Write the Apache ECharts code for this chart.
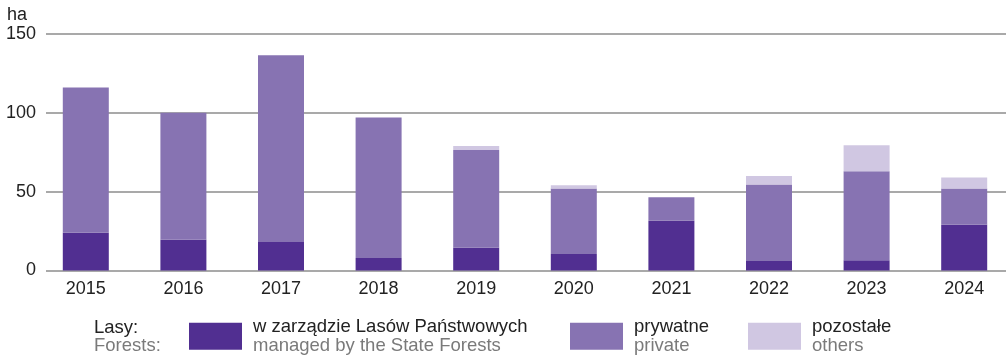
<!DOCTYPE html>
<html>
<head>
<meta charset="utf-8">
<script src="https://cdn.jsdelivr.net/npm/echarts@6/dist/echarts.min.js"></script>
<style>
html,body{margin:0;padding:0;background:#fff;}
#c{width:1007px;height:356px;}
</style>
</head>
<body>
<div id="c"></div>
<script>
const years = ['2015','2016','2017','2018','2019','2020','2021','2022','2023','2024'];
const stateForests = [24, 19.5, 18, 8, 14.5, 10.5, 31.5, 6, 6.5, 29];
const privateForests = [92, 80.5, 118.5, 89, 62, 41.5, 15, 48.5, 56.5, 23];
const otherForests = [0, 0, 0, 0, 2.5, 2, 0, 5.5, 16.5, 7];
const yTicks = [0, 50, 100, 150];
const seriesNames = [
  ['w zarządzie Lasów Państwowych', 'managed by the State Forests'],
  ['prywatne', 'private'],
  ['pozostałe', 'others']
];
const colors = ['#512f91', '#8773b2', '#d0c7e2'];

const font = 'Liberation Sans, Arial, sans-serif';
const chart = echarts.init(document.getElementById('c'), null, {renderer: 'canvas'});

function legendFor(i, left) {
  return {
    left: left, top: 317.5,
    padding: 0,
    orient: 'horizontal',
    icon: 'rect',
    itemWidth: 53, itemHeight: 27,
    selectedMode: false,
    data: [seriesNames[i][0]],
    formatter: function (n) { return '{a|' + n + '}\n{b|' + seriesNames[i][1] + '}'; },
    textStyle: {
      padding: [0, 0, 0, 6],
      rich: {
        a: {fontSize: 18.5, lineHeight: 18.5, color: '#222', fontFamily: font},
        b: {fontSize: 18.5, lineHeight: 18.5, color: '#7a7a7a', fontFamily: font}
      }
    }
  };
}

const data = [stateForests, privateForests, otherForests];

chart.setOption({
  animation: false,
  textStyle: {fontFamily: font},
  grid: [
    {left: 46, right: 1, top: 34, bottom: 85.5, outerBoundsMode: 'none'},
    {left: 37, width: 976, top: 34, bottom: 85.5, outerBoundsMode: 'none'}
  ],
  xAxis: [
    {gridIndex: 0, type: 'category', data: years, show: false},
    {gridIndex: 1, type: 'category', data: years,
     axisLine: {show: false}, axisTick: {show: false},
     axisLabel: {fontSize: 18, color: '#222', margin: 10, fontFamily: font}}
  ],
  yAxis: [
    {gridIndex: 0, type: 'value', min: yTicks[0], max: yTicks[yTicks.length - 1], interval: 50,
     axisLine: {show: false}, axisTick: {show: false},
     axisLabel: {fontSize: 18, color: '#222', margin: 10, fontFamily: font},
     splitLine: {show: true, lineStyle: {color: '#a9a9a9', width: 2}}},
    {gridIndex: 1, type: 'value', min: yTicks[0], max: yTicks[yTicks.length - 1], interval: 50, show: false,
     splitLine: {show: false}}
  ],
  legend: [legendFor(0, 189), legendFor(1, 570), legendFor(2, 748)],
  graphic: [
    {type: 'text', left: 7, top: 6, style: {text: 'ha', fontSize: 18, fill: '#222', fontFamily: font}},
    {type: 'text', left: 94, top: 318, style: {text: 'Lasy:', fontSize: 18.5, fill: '#222', fontFamily: font}},
    {type: 'text', left: 94, top: 336.5, style: {text: 'Forests:', fontSize: 18.5, fill: '#7a7a7a', fontFamily: font}}
  ],
  series: seriesNames.map(function (s, i) {
    return {
      name: s[0], type: 'bar', stack: 'total',
      xAxisIndex: 1, yAxisIndex: 1,
      barWidth: 46,
      itemStyle: {color: colors[i]},
      data: data[i]
    };
  })
});
</script>
</body>
</html>
